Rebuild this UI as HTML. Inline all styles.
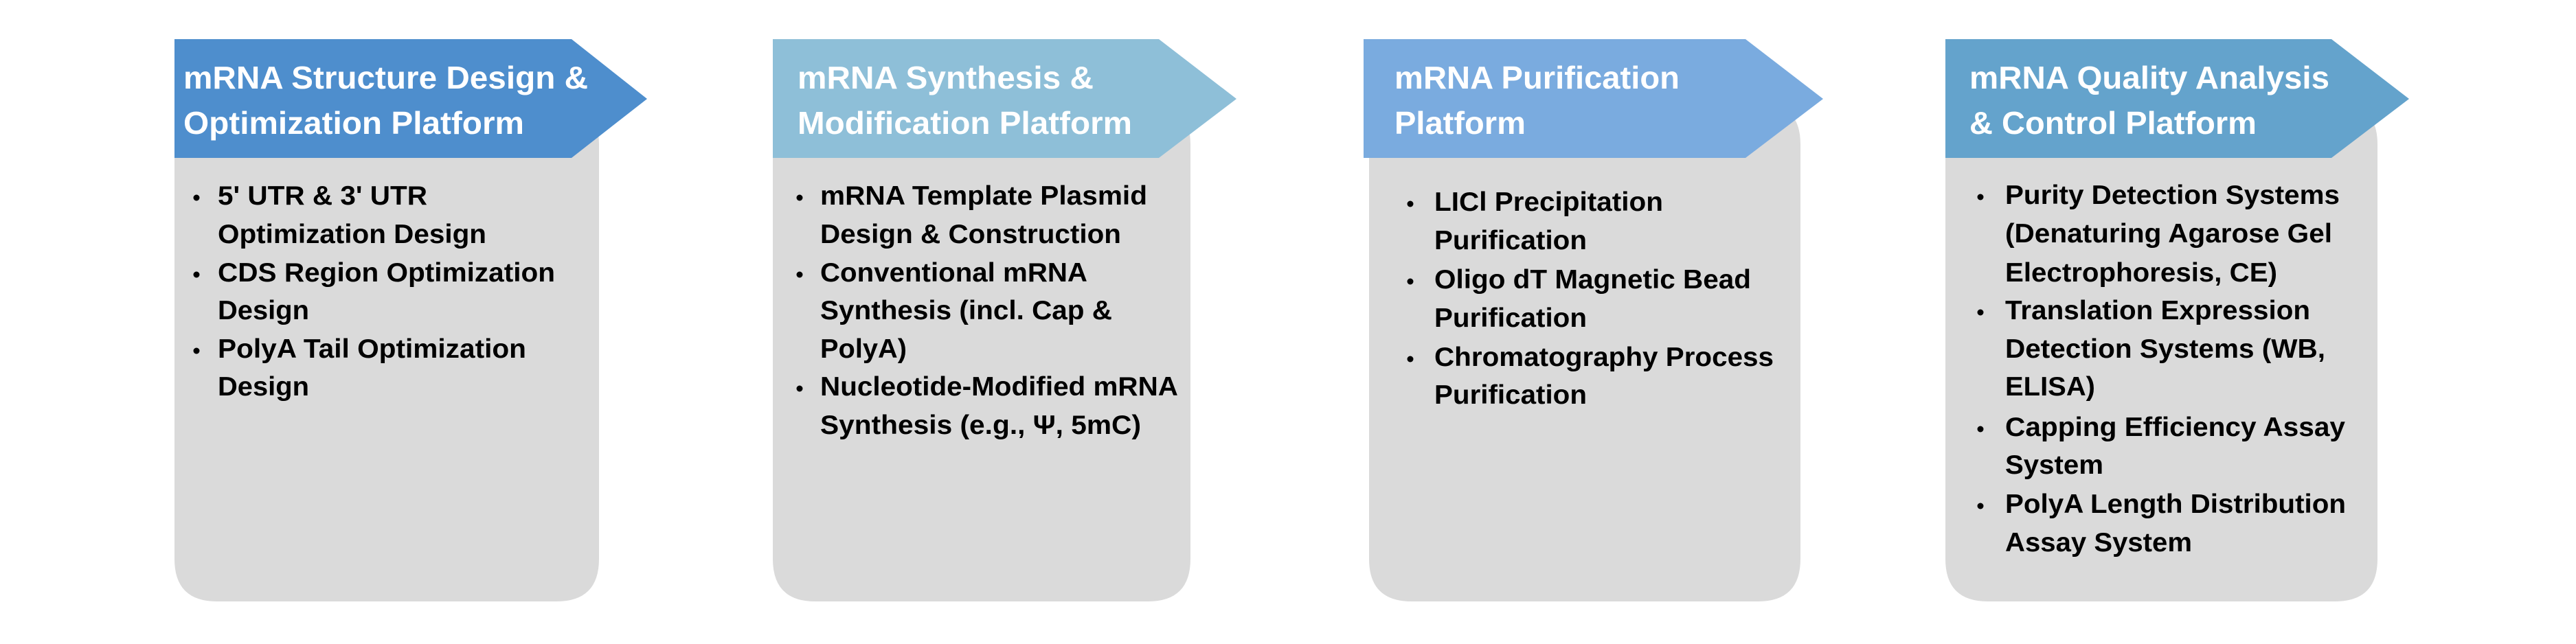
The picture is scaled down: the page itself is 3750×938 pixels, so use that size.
<!DOCTYPE html>
<html><head><meta charset="utf-8"><style>html,body{margin:0;padding:0;background:#fff}svg{display:block}</style></head><body>
<svg width="3750" height="938" viewBox="0 0 3750 938" xmlns="http://www.w3.org/2000/svg" font-family="'Liberation Sans', Arial, sans-serif" font-weight="bold">
<defs>
<style>
.h{fill:#fff;font-size:46px}
.b{fill:#000;font-size:39px}
</style>
</defs>
<!-- Panel 1 -->
<path d="M254 150 H812 Q872 150 872 210 V814 Q872 876 810 876 H316 Q254 876 254 814 Z" fill="#dadada"/>
<polygon points="254,57 832,57 942,144 832,230 254,230" fill="#4e8ecd"/>
<text class="h" x="267" y="129" textLength="589" lengthAdjust="spacingAndGlyphs">mRNA Structure Design &amp;</text>
<text class="h" x="267" y="195" textLength="496" lengthAdjust="spacingAndGlyphs">Optimization Platform</text>
<g class="b">
<text x="317" y="298" textLength="305" lengthAdjust="spacingAndGlyphs">5' UTR &amp; 3' UTR</text>
<text x="317" y="354" textLength="391" lengthAdjust="spacingAndGlyphs">Optimization Design</text>
<text x="317" y="410" textLength="491" lengthAdjust="spacingAndGlyphs">CDS Region Optimization</text>
<text x="317" y="465" textLength="133" lengthAdjust="spacingAndGlyphs">Design</text>
<text x="317" y="521" textLength="449" lengthAdjust="spacingAndGlyphs">PolyA Tail Optimization</text>
<text x="317" y="576" textLength="133" lengthAdjust="spacingAndGlyphs">Design</text>
</g>
<g fill="#000"><circle cx="286" cy="288" r="4.5"/><circle cx="286" cy="400" r="4.5"/><circle cx="286" cy="511" r="4.5"/></g>

<!-- Panel 2 -->
<path d="M1125 150 H1673 Q1733 150 1733 210 V814 Q1733 876 1671 876 H1187 Q1125 876 1125 814 Z" fill="#dadada"/>
<polygon points="1125,57 1687,57 1800,144 1687,230 1125,230" fill="#8ebfd8"/>
<text class="h" x="1161" y="129" textLength="431" lengthAdjust="spacingAndGlyphs">mRNA Synthesis &amp;</text>
<text class="h" x="1161" y="195" textLength="487" lengthAdjust="spacingAndGlyphs">Modification Platform</text>
<g class="b">
<text x="1194" y="298" textLength="476" lengthAdjust="spacingAndGlyphs">mRNA Template Plasmid</text>
<text x="1194" y="354" textLength="438" lengthAdjust="spacingAndGlyphs">Design &amp; Construction</text>
<text x="1194" y="410" textLength="389" lengthAdjust="spacingAndGlyphs">Conventional mRNA</text>
<text x="1194" y="465" textLength="425" lengthAdjust="spacingAndGlyphs">Synthesis (incl. Cap &amp;</text>
<text x="1194" y="521" textLength="126" lengthAdjust="spacingAndGlyphs">PolyA)</text>
<text x="1194" y="576" textLength="521" lengthAdjust="spacingAndGlyphs">Nucleotide-Modified mRNA</text>
<text x="1194" y="632" textLength="467" lengthAdjust="spacingAndGlyphs">Synthesis (e.g., Ψ, 5mC)</text>
</g>
<g fill="#000"><circle cx="1164" cy="288" r="4.5"/><circle cx="1164" cy="400" r="4.5"/><circle cx="1164" cy="566" r="4.5"/></g>

<!-- Panel 3 -->
<path d="M1993 150 H2561 Q2621 150 2621 210 V814 Q2621 876 2559 876 H2055 Q1993 876 1993 814 Z" fill="#dadada"/>
<polygon points="1985,57 2541,57 2654,144 2541,230 1985,230" fill="#7aabdf"/>
<text class="h" x="2030" y="129" textLength="415" lengthAdjust="spacingAndGlyphs">mRNA Purification</text>
<text class="h" x="2030" y="195" textLength="191" lengthAdjust="spacingAndGlyphs">Platform</text>
<g class="b">
<text x="2088" y="307" textLength="333" lengthAdjust="spacingAndGlyphs">LICl Precipitation</text>
<text x="2088" y="363" textLength="222" lengthAdjust="spacingAndGlyphs">Purification</text>
<text x="2088" y="420" textLength="461" lengthAdjust="spacingAndGlyphs">Oligo dT Magnetic Bead</text>
<text x="2088" y="476" textLength="222" lengthAdjust="spacingAndGlyphs">Purification</text>
<text x="2088" y="533" textLength="494" lengthAdjust="spacingAndGlyphs">Chromatography Process</text>
<text x="2088" y="588" textLength="222" lengthAdjust="spacingAndGlyphs">Purification</text>
</g>
<g fill="#000"><circle cx="2053" cy="297" r="4.5"/><circle cx="2053" cy="410" r="4.5"/><circle cx="2053" cy="523" r="4.5"/></g>

<!-- Panel 4 -->
<path d="M2832 150 H3401 Q3461 150 3461 210 V814 Q3461 876 3399 876 H2894 Q2832 876 2832 814 Z" fill="#dadada"/>
<polygon points="2832,57 3394,57 3507,144 3394,230 2832,230" fill="#64a3cc"/>
<text class="h" x="2867" y="129" textLength="524" lengthAdjust="spacingAndGlyphs">mRNA Quality Analysis</text>
<text class="h" x="2867" y="195" textLength="418" lengthAdjust="spacingAndGlyphs">&amp; Control Platform</text>
<g class="b">
<text x="2919" y="297" textLength="487" lengthAdjust="spacingAndGlyphs">Purity Detection Systems</text>
<text x="2919" y="353" textLength="476" lengthAdjust="spacingAndGlyphs">(Denaturing Agarose Gel</text>
<text x="2919" y="410" textLength="396" lengthAdjust="spacingAndGlyphs">Electrophoresis, CE)</text>
<text x="2919" y="465" textLength="444" lengthAdjust="spacingAndGlyphs">Translation Expression</text>
<text x="2919" y="521" textLength="466" lengthAdjust="spacingAndGlyphs">Detection Systems (WB,</text>
<text x="2919" y="576" textLength="131" lengthAdjust="spacingAndGlyphs">ELISA)</text>
<text x="2919" y="635" textLength="495" lengthAdjust="spacingAndGlyphs">Capping Efficiency Assay</text>
<text x="2919" y="690" textLength="143" lengthAdjust="spacingAndGlyphs">System</text>
<text x="2919" y="747" textLength="496" lengthAdjust="spacingAndGlyphs">PolyA Length Distribution</text>
<text x="2919" y="803" textLength="272" lengthAdjust="spacingAndGlyphs">Assay System</text>
</g>
<g fill="#000"><circle cx="2883" cy="287" r="4.5"/><circle cx="2883" cy="455" r="4.5"/><circle cx="2883" cy="625" r="4.5"/><circle cx="2883" cy="737" r="4.5"/></g>
</svg>
</body></html>
